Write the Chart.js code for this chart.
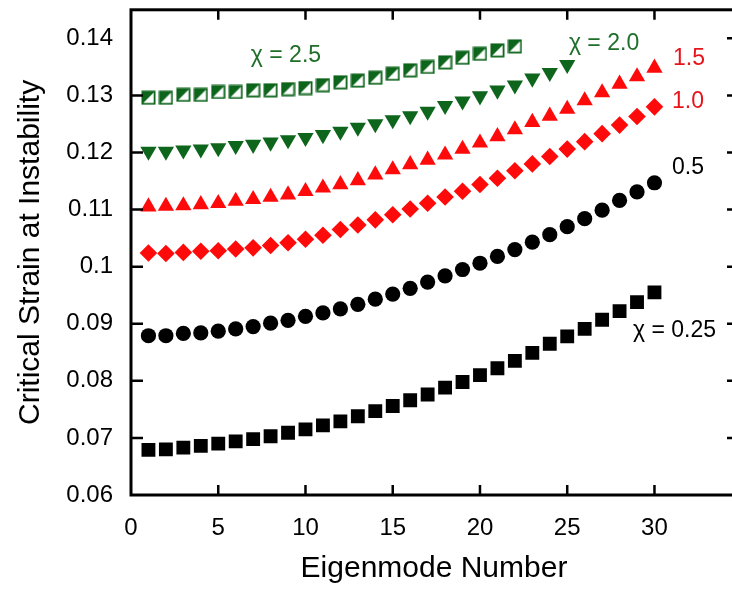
<!DOCTYPE html>
<html>
<head>
<meta charset="utf-8">
<script src="https://cdn.jsdelivr.net/npm/chart.js@4.4.1/dist/chart.umd.min.js"></script>
<style>
  html, body { margin: 0; padding: 0; background: #fff; overflow: hidden; }
  #wrap { width: 750px; height: 590px; }
</style>
</head>
<body>
<div id="wrap"><canvas id="chart"></canvas></div>
<script>
// eigenmode numbers
const modes = [1,2,3,4,5,6,7,8,9,10,11,12,13,14,15,16,17,18,19,20,21,22,23,24,25,26,27,28,29,30];

// critical strain at instability, one list per chi
const chi025 = [0.0679,0.0680,0.0683,0.0686,0.0690,0.0694,0.0698,0.0703,0.0709,0.0715,
                0.0722,0.0729,0.0738,0.0747,0.0756,0.0766,0.0776,0.0788,0.0798,0.0810,
                0.0822,0.0835,0.0849,0.0865,0.0878,0.0891,0.0907,0.0922,0.0938,0.0955];
const chi05  = [0.0879,0.0879,0.0883,0.0884,0.0887,0.0891,0.0895,0.0901,0.0906,0.0913,
                0.0919,0.0926,0.0934,0.0943,0.0952,0.0962,0.0973,0.0984,0.0995,0.1006,
                0.1018,0.1030,0.1043,0.1056,0.1070,0.1084,0.1099,0.1116,0.1131,0.1147];
const chi10  = [0.1024,0.1023,0.1025,0.1027,0.1028,0.1031,0.1033,0.1037,0.1042,0.1048,
                0.1055,0.1065,0.1073,0.1082,0.1091,0.1101,0.1111,0.1122,0.1132,0.1144,
                0.1155,0.1168,0.1180,0.1193,0.1206,0.1219,0.1233,0.1248,0.1263,0.1280];
const chi15  = [0.1105,0.1106,0.1107,0.1109,0.1111,0.1115,0.1118,0.1122,0.1126,0.1132,
                0.1138,0.1144,0.1151,0.1161,0.1170,0.1179,0.1187,0.1196,0.1206,0.1217,
                0.1228,0.1240,0.1253,0.1264,0.1276,0.1291,0.1305,0.1320,0.1333,0.1348];
const chi20  = [0.1202,0.1202,0.1204,0.1206,0.1208,0.1212,0.1214,0.1218,0.1222,0.1226,
                0.1231,0.1237,0.1244,0.1250,0.1257,0.1264,0.1272,0.1282,0.1290,0.1299,
                0.1309,0.1318,0.1330,0.1340,0.1354];
const chi25  = [0.1296,0.1296,0.1301,0.1301,0.1306,0.1306,0.1309,0.1309,0.1311,0.1313,
                0.1318,0.1323,0.1326,0.1331,0.1338,0.1344,0.1350,0.1358,0.1366,0.1373,
                0.1379,0.1386];

const xTicks = [0,5,10,15,20,25,30];
const yTicks = [0.06,0.07,0.08,0.09,0.10,0.11,0.12,0.13,0.14];

// curve labels, placed in data units
const curveLabels = [
  { text: 'χ = 2.5',  x: 8.88,  y: 0.1369, color: '#1f6e2a' },
  { text: 'χ = 2.0',  x: 27.11, y: 0.1390, color: '#1f6e2a' },
  { text: '1.5',      x: 31.98, y: 0.1365, color: '#e8141b' },
  { text: '1.0',      x: 31.92, y: 0.1289, color: '#e8141b' },
  { text: '0.5',      x: 31.92, y: 0.1174, color: '#000' },
  { text: 'χ = 0.25', x: 31.15, y: 0.0888, color: '#000' }
];

const GREEN = '#0e651c';
const RED = '#ff0a0a';
const FONT = '"Liberation Sans", Arial, sans-serif';

// half filled square marker for chi = 2.5
function halfSquare() {
  const c = document.createElement('canvas');
  c.width = 15; c.height = 15;
  const g = c.getContext('2d');
  g.fillStyle = '#fff';
  g.fillRect(1, 1, 13, 13);
  g.fillStyle = GREEN;
  g.beginPath();
  g.moveTo(1, 1); g.lineTo(14, 1); g.lineTo(1, 14); g.closePath();
  g.fill();
  g.strokeStyle = GREEN;
  g.lineWidth = 1.8;
  g.strokeRect(1.4, 1.4, 12.2, 12.2);
  return c;
}

const pts = (vals) => vals.map((v, i) => ({ x: modes[i], y: v }));

const frame = {
  id: 'frame',
  afterDatasetsDraw(chart) {
    const { ctx, chartArea: a, scales: { x, y } } = chart;
    ctx.save();
    ctx.strokeStyle = '#000';
    ctx.lineWidth = 2.5;
    ctx.beginPath();
    xTicks.filter(v => v > 0).forEach(v => {
      const px = x.getPixelForValue(v);
      ctx.moveTo(px, a.bottom); ctx.lineTo(px, a.bottom - 10);
      ctx.moveTo(px, a.top); ctx.lineTo(px, a.top + 10);
    });
    yTicks.forEach(v => {
      const py = y.getPixelForValue(v);
      if (v > 0.065 && v < 0.135) { ctx.moveTo(a.left, py); ctx.lineTo(a.left + 12, py); }
      if (v > 0.065) { ctx.moveTo(a.right, py); ctx.lineTo(a.right - 10, py); }
    });
    ctx.stroke();
    ctx.lineWidth = 3;
    ctx.strokeRect(a.left, a.top, a.right - a.left, a.bottom - a.top);

    ctx.font = '23px ' + FONT;
    ctx.textAlign = 'center';
    ctx.textBaseline = 'middle';
    curveLabels.forEach(l => {
      ctx.fillStyle = l.color;
      ctx.fillText(l.text, x.getPixelForValue(l.x), y.getPixelForValue(l.y));
    });
    ctx.restore();
  }
};

new Chart(document.getElementById('chart'), {
  type: 'scatter',
  data: {
    datasets: [
      { label: 'χ = 0.25', data: pts(chi025), pointStyle: 'rect', pointRadius: 9.8, backgroundColor: '#000', borderColor: '#000', borderWidth: 0 },
      { label: 'χ = 0.5', data: pts(chi05), pointStyle: 'circle', pointRadius: 7.6, backgroundColor: '#000', borderColor: '#000', borderWidth: 0 },
      { label: 'χ = 1.0', data: pts(chi10), pointStyle: 'rectRot', pointRadius: 8.8, backgroundColor: RED, borderColor: RED, borderWidth: 0 },
      { label: 'χ = 1.5', data: pts(chi15), pointStyle: 'triangle', pointRadius: 9.4, backgroundColor: RED, borderColor: RED, borderWidth: 0 },
      { label: 'χ = 2.0', data: pts(chi20), pointStyle: 'triangle', rotation: 180, pointRadius: 9.4, backgroundColor: GREEN, borderColor: GREEN, borderWidth: 0 },
      { label: 'χ = 2.5', data: pts(chi25), pointStyle: halfSquare(), pointRadius: 7.5 }
    ]
  },
  options: {
    responsive: true,
    maintainAspectRatio: false,
    animation: false,
    events: [],
    layout: { padding: { left: 0, top: 9, right: 13, bottom: 0 } },
    plugins: { legend: { display: false }, tooltip: { enabled: false } },
    scales: {
      x: {
        type: 'linear', min: 0, max: 34.73,
        grid: { display: false, drawTicks: false },
        border: { display: false },
        afterBuildTicks: s => { s.ticks = xTicks.map(v => ({ value: v })); },
        afterFit: s => { s.height = 95; s.paddingLeft = 0; s.paddingRight = 0; },
        ticks: { color: '#000', font: { family: FONT, size: 24 }, padding: 19, maxRotation: 0,
                 callback: v => String(v) },
        title: { display: true, text: 'Eigenmode Number', color: '#000',
                 font: { family: FONT, size: 30 }, padding: { top: 0, bottom: 3 } }
      },
      y: {
        type: 'linear', min: 0.06, max: 0.145,
        grid: { display: false, drawTicks: false },
        border: { display: false },
        afterBuildTicks: s => { s.ticks = yTicks.map(v => ({ value: v })); },
        afterFit: s => { s.width = 131; s.paddingTop = 0; s.paddingBottom = 0; },
        ticks: { color: '#000', font: { family: FONT, size: 24 }, padding: 18,
                 callback: v => String(+v.toFixed(2)) },
        title: { display: true, text: 'Critical Strain at Instability', color: '#000',
                 font: { family: FONT, size: 30 }, padding: { top: 13, bottom: 0 } }
      }
    }
  },
  plugins: [frame]
});
</script>
</body>
</html>
